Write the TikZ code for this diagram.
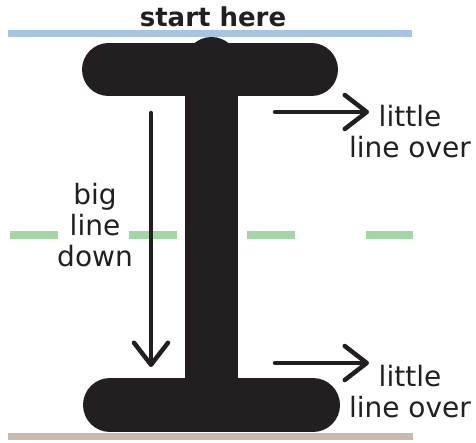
\documentclass[tikz,border=0pt]{standalone}
\usepackage{fontspec}
\setmainfont{DejaVu Sans}
\usetikzlibrary{arrows.meta}
\definecolor{ink}{HTML}{231F20}
\definecolor{topblue}{HTML}{A7C4E1}
\definecolor{midgreen}{HTML}{A3D5A5}
\definecolor{basebrown}{HTML}{CAB9AE}
\begin{document}
\begin{tikzpicture}[x=1pt,y=-1pt,
  guide/.style={line width=7pt},
  beam/.style={ink, line cap=round},
  arrowline/.style={ink, line width=4.5pt, line cap=round, -{Straight Barb[length=22pt,width=34pt,round]}},
  label/.style={ink, font=\fontsize{28}{31}\selectfont, align=center, inner sep=0pt, anchor=north}]
\useasboundingbox (0,0) rectangle (476,443);
% guide lines
\draw[guide, topblue] (8,33.5) -- (412,33.5);
\draw[guide, basebrown] (8,436.5) -- (413,436.5);
\draw[midgreen, line width=8pt, dash pattern=on 48pt off 70.5pt] (10,235) -- (413,235);
% I-beam
\fill[ink] (211.5,63) ellipse [x radius=26.5pt, y radius=26pt];
\draw[ink, line width=53pt] (211.5,70) -- (211.5,400);
\draw[beam, line width=53pt] (108.5,69.7) -- (311.5,69.7);
\draw[beam, line width=54pt] (110,405) -- (313,405);
% arrows
\coordinate (bigstart) at (151,113);
\coordinate (bigend) at (151,367);
\coordinate (topstart) at (275,112);
\coordinate (topend) at (369,112);
\coordinate (botstart) at (275,363);
\coordinate (botend) at (369,363);
\draw[arrowline] (bigstart) -- (bigend);
\draw[arrowline] (topstart) -- (topend);
\draw[arrowline] (botstart) -- (botend);
% texts
\node[ink, font=\bfseries\fontsize{26}{30}\selectfont, anchor=base, inner sep=0pt] (title) at (213,27) {start here};
\node[label] (bigtext) at (95,183) {big\\line\\down};
\node[label] (toptext) at (410,105) {little\\line over};
\node[label] (bottext) at (410,365) {little\\line over};
\end{tikzpicture}
\end{document}
